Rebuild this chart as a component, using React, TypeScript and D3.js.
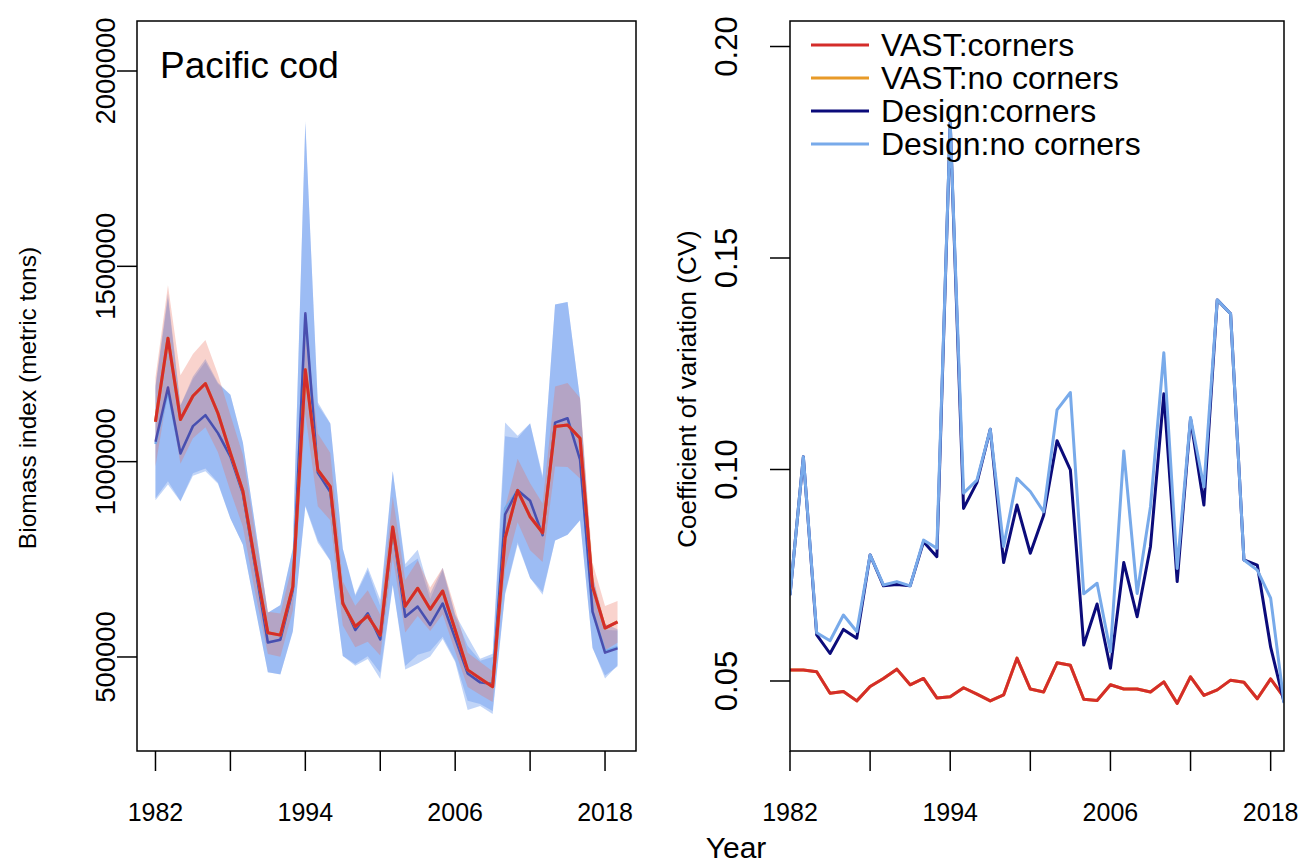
import React from "react";
import * as d3 from "d3";

const years = [1982, 1983, 1984, 1985, 1986, 1987, 1988, 1989, 1990, 1991, 1992, 1993, 1994, 1995, 1996, 1997, 1998, 1999, 2000, 2001, 2002, 2003, 2004, 2005, 2006, 2007, 2008, 2009, 2010, 2011, 2012, 2013, 2014, 2015, 2016, 2017, 2018, 2019];

const vastCornersBiomass = [1102000, 1316000, 1108000, 1168000, 1200000, 1124000, 1022000, 925000, 738000, 562000, 556000, 680000, 1235000, 979000, 936000, 637000, 578000, 605000, 556000, 833000, 630000, 676000, 622000, 669000, 569000, 467000, 445000, 424000, 804000, 926000, 859000, 818000, 1090000, 1094000, 1060000, 680000, 574000, 590000];
const vastNoCornersBiomass = [1102000, 1316000, 1108000, 1168000, 1200000, 1124000, 1022000, 925000, 738000, 562000, 556000, 680000, 1235000, 979000, 936000, 637000, 578000, 605000, 556000, 833000, 630000, 676000, 622000, 669000, 569000, 467000, 445000, 424000, 804000, 926000, 859000, 818000, 1090000, 1094000, 1060000, 680000, 574000, 590000];
const designCornersBiomass = [1051000, 1190000, 1021000, 1091000, 1119000, 1073000, 1013000, 918000, 728000, 537000, 544000, 672000, 1380000, 972000, 922000, 640000, 569000, 612000, 545000, 830000, 603000, 629000, 582000, 637000, 548000, 458000, 435000, 431000, 865000, 927000, 900000, 812000, 1100000, 1111000, 1005000, 616000, 511000, 522000];
const designNoCornersBiomass = [1045000, 1180000, 1021000, 1091000, 1119000, 1073000, 1013000, 918000, 728000, 537000, 544000, 672000, 1375000, 972000, 922000, 640000, 569000, 612000, 545000, 830000, 603000, 629000, 582000, 637000, 548000, 458000, 435000, 431000, 880000, 927000, 900000, 812000, 1100000, 1111000, 1005000, 616000, 515000, 525000];

const vastCornersCV = [0.0526, 0.0526, 0.0522, 0.0471, 0.0475, 0.0453, 0.0487, 0.0506, 0.0528, 0.0491, 0.0506, 0.0460, 0.0463, 0.0484, 0.0469, 0.0453, 0.0467, 0.0554, 0.0481, 0.0474, 0.0543, 0.0537, 0.0457, 0.0454, 0.0491, 0.0481, 0.0481, 0.0474, 0.0498, 0.0447, 0.0510, 0.0466, 0.0479, 0.0502, 0.0497, 0.0458, 0.0505, 0.0461];
const vastNoCornersCV = [0.0526, 0.0526, 0.0522, 0.0471, 0.0475, 0.0453, 0.0487, 0.0506, 0.0528, 0.0491, 0.0506, 0.0460, 0.0463, 0.0484, 0.0469, 0.0453, 0.0467, 0.0554, 0.0481, 0.0474, 0.0543, 0.0537, 0.0457, 0.0454, 0.0491, 0.0481, 0.0481, 0.0474, 0.0498, 0.0447, 0.0510, 0.0466, 0.0479, 0.0502, 0.0497, 0.0458, 0.0505, 0.0461];
const designCornersCV = [0.0703, 0.1030, 0.0609, 0.0565, 0.0622, 0.0601, 0.0798, 0.0725, 0.0728, 0.0725, 0.0829, 0.0794, 0.1820, 0.0908, 0.0969, 0.1095, 0.0780, 0.0916, 0.0802, 0.0892, 0.1068, 0.0999, 0.0585, 0.0682, 0.0530, 0.0780, 0.0652, 0.0818, 0.1179, 0.0735, 0.1120, 0.0916, 0.1401, 0.1368, 0.0786, 0.0774, 0.0580, 0.0450];
const designNoCornersCV = [0.0703, 0.1030, 0.0614, 0.0595, 0.0656, 0.0617, 0.0798, 0.0727, 0.0735, 0.0725, 0.0833, 0.0814, 0.1820, 0.0944, 0.0975, 0.1095, 0.0818, 0.0979, 0.0948, 0.0900, 0.1141, 0.1182, 0.0706, 0.0731, 0.0569, 0.1044, 0.0707, 0.0912, 0.1276, 0.0766, 0.1123, 0.0959, 0.1401, 0.1368, 0.0786, 0.0762, 0.0696, 0.0448];

const xTickYears = [1982, 1988, 1994, 2000, 2006, 2012, 2018];
const xLabelYears = [1982, 1994, 2006, 2018];
const biomassTicks = [500000, 1000000, 1500000, 2000000];
const cvTicks = [0.05, 0.1, 0.15, 0.2];
const legendLabels = ["VAST:corners", "VAST:no corners", "Design:corners", "Design:no corners"];
const seriesColors = ["#d42d2a", "#e89a28", "#0b0b7a", "#78aaea"];

const FONT = "'Liberation Sans', Arial, Helvetica, sans-serif";

type Pt = { year: number; est: number; cv: number };
const makeSeries = (est: number[], cv: number[]): Pt[] =>
  years.map((year, i) => ({ year, est: est[i], cv: cv[i] }));

export default function App() {
  const L = { x0: 137, x1: 636, y0: 21, y1: 751 };
  const R = { x0: 790, x1: 1284, y0: 21, y1: 751 };

  const xL = d3.scaleLinear().domain([1980.52, 2020.48]).range([L.x0, L.x1]);
  const yL = d3.scaleLinear().domain([259336, 2127990]).range([L.y1, L.y0]);
  const xR = d3.scaleLinear().domain([1982, 2019]).range([R.x0, R.x1]);
  const yR = d3.scaleLinear().domain([0.03345, 0.20603]).range([R.y1, R.y0]);

  const vastC = makeSeries(vastCornersBiomass, vastCornersCV);
  const vastN = makeSeries(vastNoCornersBiomass, vastNoCornersCV);
  const desC = makeSeries(designCornersBiomass, designCornersCV);
  const desN = makeSeries(designNoCornersBiomass, designNoCornersCV);

  const band = d3
    .area<Pt>()
    .x((d) => xL(d.year))
    .y0((d) => yL(d.est * (1 - 1.96 * d.cv)))
    .y1((d) => yL(d.est * (1 + 1.96 * d.cv)));
  const estLine = d3
    .line<Pt>()
    .x((d) => xL(d.year))
    .y((d) => yL(d.est));
  const cvLine = d3
    .line<Pt>()
    .x((d) => xR(d.year))
    .y((d) => yR(d.cv));

  const tickLen = 20;

  return (
    <svg
      width={1308}
      height={864}
      style={{ position: "absolute", left: 0, top: 0, background: "#fff" }}
      fontFamily={FONT}
    >
      <defs>
        <clipPath id="clipL">
          <rect x={L.x0} y={L.y0} width={L.x1 - L.x0} height={L.y1 - L.y0} />
        </clipPath>
        <clipPath id="clipR">
          <rect x={R.x0} y={R.y0} width={R.x1 - R.x0} height={R.y1 - R.y0} />
        </clipPath>
      </defs>
      <rect x={0} y={0} width={1308} height={864} fill="#fff" />

      {/* Left panel */}
      <g clipPath="url(#clipL)">
        <path d={band(desN) || ""} fill="rgb(100,149,237)" fillOpacity={0.4} />
        <path d={band(desC) || ""} fill="rgb(100,149,237)" fillOpacity={0.4} />
        <path d={band(vastC) || ""} fill="rgb(235,110,90)" fillOpacity={0.3} />
        <path d={estLine(desN) || ""} fill="none" stroke={seriesColors[3]} strokeWidth={2.5} strokeLinejoin="round" />
        <path d={estLine(desC) || ""} fill="none" stroke="#3a2f9a" strokeOpacity={0.75} strokeWidth={2.5} strokeLinejoin="round" />
        <path d={estLine(vastN) || ""} fill="none" stroke={seriesColors[1]} strokeWidth={3} strokeLinejoin="round" />
        <path d={estLine(vastC) || ""} fill="none" stroke={seriesColors[0]} strokeWidth={3} strokeLinejoin="round" />
      </g>
      <rect x={L.x0} y={L.y0} width={L.x1 - L.x0} height={L.y1 - L.y0} fill="none" stroke="#000" strokeWidth={1.5} />
      <text x={160} y={78} fontSize={37}>Pacific cod</text>
      {xTickYears.map((t) => (
        <line key={"lxt" + t} x1={xL(t)} x2={xL(t)} y1={L.y1} y2={L.y1 + tickLen} stroke="#000" strokeWidth={1.5} />
      ))}
      {xLabelYears.map((t) => (
        <text key={"lxl" + t} x={xL(t)} y={821} fontSize={25} textAnchor="middle">{t}</text>
      ))}
      {biomassTicks.map((t) => (
        <line key={"lyt" + t} x1={L.x0 - tickLen} x2={L.x0} y1={yL(t)} y2={yL(t)} stroke="#000" strokeWidth={1.5} />
      ))}
      {biomassTicks.map((t) => (
        <text key={"lyl" + t} transform={`translate(115,${yL(t)}) rotate(-90)`} fontSize={27.5} textAnchor="middle">{t}</text>
      ))}
      <text transform={`translate(36,398) rotate(-90)`} fontSize={24.5} textAnchor="middle">Biomass index (metric tons)</text>

      {/* Right panel */}
      <g clipPath="url(#clipR)">
        <path d={cvLine(vastN) || ""} fill="none" stroke={seriesColors[1]} strokeWidth={3} strokeLinejoin="round" />
        <path d={cvLine(vastC) || ""} fill="none" stroke={seriesColors[0]} strokeWidth={3} strokeLinejoin="round" />
        <path d={cvLine(desC) || ""} fill="none" stroke={seriesColors[2]} strokeWidth={3} strokeLinejoin="round" />
        <path d={cvLine(desN) || ""} fill="none" stroke={seriesColors[3]} strokeWidth={3} strokeLinejoin="round" />
      </g>
      <rect x={R.x0} y={R.y0} width={R.x1 - R.x0} height={R.y1 - R.y0} fill="none" stroke="#000" strokeWidth={1.5} />
      {xTickYears.map((t) => (
        <line key={"rxt" + t} x1={xR(t)} x2={xR(t)} y1={R.y1} y2={R.y1 + tickLen} stroke="#000" strokeWidth={1.5} />
      ))}
      {xLabelYears.map((t) => (
        <text key={"rxl" + t} x={xR(t)} y={821} fontSize={25} textAnchor="middle">{t}</text>
      ))}
      {cvTicks.map((t) => (
        <line key={"ryt" + t} x1={R.x0 - tickLen} x2={R.x0} y1={yR(t)} y2={yR(t)} stroke="#000" strokeWidth={1.5} />
      ))}
      {cvTicks.map((t) => (
        <text key={"ryl" + t} transform={`translate(737,${yR(t)}) rotate(-90)`} fontSize={31} textAnchor="middle">{d3.format(".2f")(t)}</text>
      ))}
      <text transform={`translate(696,389) rotate(-90)`} fontSize={26} textAnchor="middle">Coefficient of variation (CV)</text>

      {/* Legend */}
      {legendLabels.map((lab, i) => (
        <g key={lab}>
          <line x1={811} x2={869} y1={45 + i * 33} y2={45 + i * 33} stroke={seriesColors[i]} strokeWidth={3} />
          <text x={881} y={45 + i * 33 + 11} fontSize={32}>{lab}</text>
        </g>
      ))}

      <text x={736} y={858} fontSize={30} textAnchor="middle">Year</text>
    </svg>
  );
}
